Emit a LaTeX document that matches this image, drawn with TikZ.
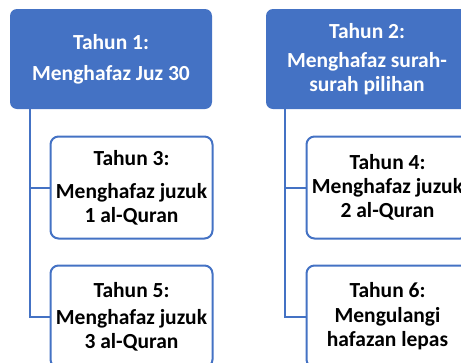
\documentclass[tikz,border=0pt]{standalone}
\usepackage{fontspec}
\setmainfont{Carlito}
\usetikzlibrary{positioning}
\definecolor{hblue}{HTML}{4472C4}
\tikzset{
  yearbox/.style={fill=hblue, text=white, rounded corners=7pt, minimum width=202pt,
    minimum height=100pt, inner sep=0pt, align=center, font=\bfseries\fontsize{21.5}{24}\selectfont},
  subbox/.style={draw=hblue, line width=2pt, fill=white, rounded corners=8pt, minimum width=162pt,
    minimum height=102pt, inner sep=0pt, align=center, font=\bfseries\fontsize{21.5}{24}\selectfont},
  link/.style={draw=hblue, line width=2pt}
}
\begin{document}
\begin{tikzpicture}[x=1pt,y=-1pt]
  \useasboundingbox (0,0) rectangle (461,362);
  \clip (0,0) rectangle (461,362);
  \begin{scope}
    \node[yearbox] (yr1) at (111,59) {Tahun 1:\\[7pt]Menghafaz Juz 30};
    \node[subbox] (yr3) at (131.5,187.5) {Tahun 3:\\[9pt]Menghafaz juzuk\\1 al-Quran};
    \node[subbox] (yr5) at (131.5,316.5) {Tahun 5:\\[3pt]Menghafaz juzuk\\3 al-Quran};
    \foreach \k in {yr3,yr5}
      \draw[link] ([xshift=20pt]yr1.south west) |- (\k.west);
  \end{scope}
  \begin{scope}[xshift=256pt]
    \node[yearbox] (yr2) at (111,59) {Tahun 2:\\[5pt]Menghafaz surah-\\surah pilihan};
    \node[subbox] (yr4) at (131.5,187.5) {Tahun 4:\\Menghafaz juzuk\\2 al-Quran};
    \node[subbox] (yr6) at (131.5,316.5) {Tahun 6:\\[1pt]Mengulangi\\hafazan lepas};
    \foreach \k in {yr4,yr6}
      \draw[link] ([xshift=19pt]yr2.south west) |- (\k.west);
  \end{scope}
\end{tikzpicture}
\end{document}
